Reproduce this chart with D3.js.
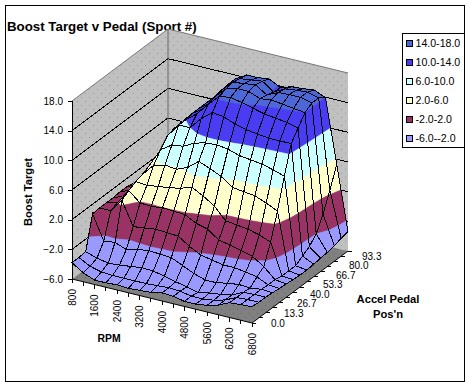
<!DOCTYPE html>
<html lang="en">
  <head>
    <meta charset="UTF-8" />
    <title>Boost Target v Pedal</title>
    <style>
      html, body { margin: 0; padding: 0; background: #fff; }
      svg { display: block; font-family: "Liberation Sans", Arial, sans-serif; }
    </style>
  </head>
  <body>
    <div class="chart"></div>
    <script src="https://cdn.jsdelivr.net/npm/d3@7"></script>
    <script>
    var w = 471, h = 387;

    var rpm = [800, 1200, 1600, 2000, 2400, 2800, 3200, 3600, 4000, 4400, 4800, 5200, 5600, 5900, 6200, 6500, 6800];
    var rpmLabels = ["800", "1600", "2400", "3200", "4000", "4800", "5600", "6200", "6800"];
    var pedal = [0, 6.7, 13.3, 20, 26.7, 33.3, 40, 46.7, 53.3, 60, 66.7, 73.3, 80, 86.7, 93.3];
    var pedalLabels = ["0.0", "13.3", "26.7", "40.0", "53.3", "66.7", "80.0", "93.3"];
    var boostTicks = [-6, -2, 2, 6, 10, 14, 18];

    var bandLabels = ["14.0-18.0", "10.0-14.0", "6.0-10.0", "2.0-6.0", "-2.0-2.0", "-6.0--2.0"];
    var bandLow = [14, 10, 6, 2, -2, -6];
    var bandColors = ["#4c68d8", "#4a3cf2", "#ccffff", "#ffffcc", "#993366", "#9999ff"];

    // boost target, one list per rpm, pedal 0 -> 93.3
    var boost = [
      [-3.8, -3.8, -3.7, 0.7, 0.8, 0.8, 0.8, 0.9, 0.9, 0.7, 0.6, 1.1, 1.7, 1.9, 1.9],
      [-4.8, -4.6, -4.2, -2.6, 0.8, 1.2, 1.4, 1.5, 1.6, 1.7, 1.8, 1.9, 1.9, 1.9, 1.9],
      [-5.4, -5, -4.5, -2.4, 2.6, 3.2, 3.7, 4, 4.5, 4.8, 5.2, 5.4, 5.6, 5.8, 6],
      [-5.4, -5.1, -4.4, -3, -0.6, 1.9, 3.6, 5.6, 7, 8.2, 8.5, 8.6, 8.6, 8.6, 8.6],
      [-5.3, -5.1, -4.2, -2.6, -0.4, 1.8, 3.8, 6, 8, 10, 10, 10.2, 10.2, 10.2, 10.2],
      [-5.4, -5.1, -4, -2.4, -0.2, 2, 4, 5.8, 8.2, 10, 11.2, 11.2, 11.3, 11.4, 11.5],
      [-5.3, -5.1, -4.1, -2.5, -0.3, 1.9, 4.3, 6.4, 9, 11.6, 12.8, 13.2, 13.4, 13.5, 13.5],
      [-5.2, -5, -4.4, -2.6, -0.4, 1.8, 4.8, 7.6, 9.4, 12.8, 14.3, 14.6, 14.8, 14.6, 14.4],
      [-4.9, -4.9, -4.8, -3.3, -1.4, 1, 4, 7, 9.5, 12.6, 14.5, 15, 15, 14.8, 14.4],
      [-5, -5, -5.1, -4, -2.2, 0.6, 3, 6.3, 9.3, 12, 14.2, 15, 15.2, 15, 14.6],
      [-5.3, -5.3, -5.5, -4.5, -2.5, -0.5, 1.4, 5.2, 8.8, 11.6, 13.8, 14.4, 14.2, 13.9, 13.8],
      [-5.3, -5.3, -5.2, -4.5, -2.8, -0.8, 1.2, 5, 8.6, 11.4, 13.4, 14.6, 14.9, 14.7, 14.3],
      [-5.1, -5.1, -5, -4.2, -2.8, -1.2, 1, 4.8, 8.4, 11.2, 13.2, 14.4, 15, 14.9, 14.4],
      [-4.7, -4.7, -4.7, -4, -3, -1.6, 0.6, 4.2, 8, 11.2, 13, 14.2, 15, 15, 14.6],
      [-4, -4, -4, -4.1, -3.3, -2.6, 0, 3.5, 7.5, 11.2, 12.6, 14, 14.6, 14.6, 13.9],
      [-3.9, -3.9, -3.9, -3.9, -4, -4, -4.2, -4.2, -4.2, -3.6, -3, -2, 0, 2.5, 5.3],
      [-3.8, -3.9, -3.9, -4, -4.1, -4.2, -4.3, -4.4, -4.4, -4.3, -4.2, -4.1, -3.9, -3.6, -3.4]
    ];

    var svg = d3.select(".chart").append("svg")
                .attr("width", w)
                .attr("height", h);

    // the box is an oblique projection, no perspective in the original
    var uScale = d3.scaleLinear().domain([0, rpm.length - 1]).range([0, 1]);
    var vScale = d3.scaleLinear().domain([0, pedal.length - 1]).range([0, 1]);
    var zScale = d3.scaleLinear().domain([-6, 18]).range([279, 101]);

    function project(u, v, z) {
      return [72 + 180 * u + 96 * v, zScale(z) + 44 * u - 72 * v];
    }
    function ptsAttr(pts) {
      return pts.map(function(p) { return p[0] + "," + p[1]; }).join(" ");
    }

    var defs = svg.append("defs");
    function speckle(id, bg, dots) {
      var p = defs.append("pattern").attr("id", id)
                  .attr("patternUnits", "userSpaceOnUse")
                  .attr("width", 8).attr("height", 8);
      p.append("rect").attr("width", 8).attr("height", 8).attr("fill", bg);
      p.append("rect").attr("x", 1).attr("y", 1).attr("width", 1).attr("height", 1).attr("fill", dots);
      p.append("rect").attr("x", 5).attr("y", 5).attr("width", 1).attr("height", 1).attr("fill", dots);
    }
    speckle("wall", "#c0c0c0", "#8fa08f");
    speckle("floor", "#808080", "#5f6a5f");

    // chart frame
    svg.append("rect")
       .attr("x", 5.5).attr("y", 5.5)
       .attr("width", 459).attr("height", 376)
       .attr("fill", "#fff")
       .attr("stroke", "#000");

    svg.append("text")
       .attr("x", 7).attr("y", 31)
       .style("font-size", "13.3px")
       .style("font-weight", "bold")
       .attr("fill", "#000")
       .text("Boost Target v Pedal (Sport #)");

    // walls and floor
    var walls = svg.append("g");
    walls.append("polygon")
         .attr("points", ptsAttr([project(0,0,18), project(0,1,18), project(0,1,-6), project(0,0,-6)]))
         .attr("fill", "url(#wall)");
    walls.append("polygon")
         .attr("points", ptsAttr([project(0,1,18), project(1,1,18), project(1,1,-6), project(0,1,-6)]))
         .attr("fill", "url(#wall)");
    walls.append("polygon")
         .attr("points", ptsAttr([project(0,0,-6), project(1,0,-6), project(1,1,-6), project(0,1,-6)]))
         .attr("fill", "url(#floor)");

    boostTicks.slice(1, -1).forEach(function(t) {
      walls.append("polyline")
           .attr("points", ptsAttr([project(0,0,t), project(0,1,t), project(1,1,t)]))
           .attr("fill", "none")
           .attr("stroke", "#000")
           .attr("shape-rendering", "crispEdges");
    });
    walls.append("polyline")
         .attr("points", ptsAttr([project(0,0,18), project(0,1,18), project(1,1,18)]))
         .attr("fill", "none")
         .attr("stroke", "#777");
    walls.append("line")
         .attr("x1", project(0,1,18)[0]).attr("y1", project(0,1,18)[1])
         .attr("x2", project(0,1,-6)[0]).attr("y2", project(0,1,-6)[1])
         .attr("stroke", "#666");

    // clip a quad against a z range, points are [u, v, z]
    function clipBelow(poly, limit, keepAbove) {
      var out = [];
      poly.forEach(function(a, k) {
        var b = poly[(k + 1) % poly.length];
        var aIn = keepAbove ? a[2] >= limit : a[2] <= limit;
        var bIn = keepAbove ? b[2] >= limit : b[2] <= limit;
        if (aIn) out.push(a);
        if (aIn != bIn) {
          var t = (limit - a[2]) / (b[2] - a[2]);
          out.push([a[0] + t * (b[0] - a[0]), a[1] + t * (b[1] - a[1]), limit]);
        }
      });
      return out;
    }

    var surface = svg.append("g");

    // paint far corner first: low rpm, high pedal
    for (var i = 0; i < rpm.length - 1; i++) {
      for (var j = pedal.length - 2; j >= 0; j--) {
        var quad = [
          [uScale(i), vScale(j), boost[i][j]],
          [uScale(i + 1), vScale(j), boost[i + 1][j]],
          [uScale(i + 1), vScale(j + 1), boost[i + 1][j + 1]],
          [uScale(i), vScale(j + 1), boost[i][j + 1]]
        ];
        bandLow.forEach(function(lo, b) {
          var part = clipBelow(clipBelow(quad, lo, true), lo + 4, false);
          if (part.length < 3) return;
          surface.append("polygon")
                 .attr("points", ptsAttr(part.map(function(p) { return project(p[0], p[1], p[2]); })))
                 .attr("fill", bandColors[b])
                 .attr("stroke", bandColors[b])
                 .attr("stroke-width", 0.6);
        });
        surface.append("polygon")
               .attr("points", ptsAttr(quad.map(function(p) { return project(p[0], p[1], p[2]); })))
               .attr("fill", "none")
               .attr("stroke", "#000")
               .attr("stroke-width", 1)
               .attr("shape-rendering", "crispEdges");
      }
    }

    // boost axis
    var boostAxis = d3.axisLeft(zScale)
                      .tickValues(boostTicks)
                      .tickSize(4)
                      .tickPadding(5)
                      .tickFormat(d3.format(".1f"));
    var zAxisG = svg.append("g")
                    .attr("transform", "translate(72,0)")
                    .call(boostAxis);
    zAxisG.selectAll("text").style("font-size", "10px")
          .style("font-family", "\"Liberation Sans\", Arial, sans-serif").attr("fill", "#000");
    zAxisG.selectAll("line, path").attr("stroke", "#000").attr("shape-rendering", "crispEdges");

    // rpm axis
    var rpmAxis = svg.append("g");
    rpmAxis.append("line")
           .attr("x1", project(0,0,-6)[0]).attr("y1", project(0,0,-6)[1])
           .attr("x2", project(1,0,-6)[0]).attr("y2", project(1,0,-6)[1])
           .attr("stroke", "#000");
    rpm.forEach(function(r, k) {
      var p = project(uScale(k), 0, -6);
      rpmAxis.append("line")
             .attr("x1", p[0]).attr("y1", p[1])
             .attr("x2", p[0]).attr("y2", p[1] + 4)
             .attr("stroke", "#000")
             .attr("shape-rendering", "crispEdges");
      if (k % 2 == 0) {
        rpmAxis.append("text")
               .attr("transform", "translate(" + (p[0] + 3.5) + "," + (p[1] + 10) + ") rotate(-90)")
               .attr("text-anchor", "end")
               .style("font-size", "10px")
               .attr("fill", "#000")
               .text(rpmLabels[k / 2]);
      }
    });

    // pedal axis
    var pedalAxis = svg.append("g");
    pedalAxis.append("line")
             .attr("x1", project(1,0,-6)[0]).attr("y1", project(1,0,-6)[1])
             .attr("x2", project(1,1,-6)[0]).attr("y2", project(1,1,-6)[1])
             .attr("stroke", "#000");
    pedal.forEach(function(r, k) {
      var p = project(1, vScale(k), -6);
      pedalAxis.append("line")
               .attr("x1", p[0]).attr("y1", p[1])
               .attr("x2", p[0] + 4).attr("y2", p[1])
               .attr("stroke", "#000")
               .attr("shape-rendering", "crispEdges");
    });
    var pedalLabelX = d3.scaleLinear().domain([0, 7]).range([271, 362]);
    var pedalLabelY = d3.scaleLinear().domain([0, 7]).range([323, 256]);
    pedalLabels.forEach(function(l, k) {
      pedalAxis.append("text")
               .attr("x", pedalLabelX(k))
               .attr("y", pedalLabelY(k))
               .attr("dy", "0.35em")
               .style("font-size", "10px")
               .attr("fill", "#000")
               .text(l);
    });

    // axis titles
    function axisTitle(x, y, txt, size, rot) {
      svg.append("text")
         .attr("transform", "translate(" + x + "," + y + ")" + (rot ? " rotate(" + rot + ")" : ""))
         .attr("text-anchor", "middle")
         .style("font-size", size + "px")
         .style("font-weight", "bold")
         .attr("fill", "#000")
         .text(txt);
    }
    axisTitle(109, 342, "RPM", 10.4);
    axisTitle(32, 192, "Boost Target", 11.2, -90);
    axisTitle(388, 303, "Accel Pedal", 11.2);
    axisTitle(388, 318, "Pos'n", 11.2);

    // legend
    var legend = svg.append("g");
    legend.append("rect")
          .attr("x", 402.5).attr("y", 33.5)
          .attr("width", 62).attr("height", 114)
          .attr("fill", "#fff")
          .attr("stroke", "#000");
    bandLabels.forEach(function(l, k) {
      var y = 43.5 + k * 19;
      legend.append("rect")
            .attr("x", 406.5).attr("y", y - 3)
            .attr("width", 6).attr("height", 6)
            .attr("fill", bandColors[k])
            .attr("stroke", "#000");
      legend.append("text")
            .attr("x", 415.5).attr("y", y)
            .attr("dy", "0.35em")
            .style("font-size", "10.6px")
            .attr("fill", "#000")
            .text(l);
    });
    </script>
  </body>
</html>
